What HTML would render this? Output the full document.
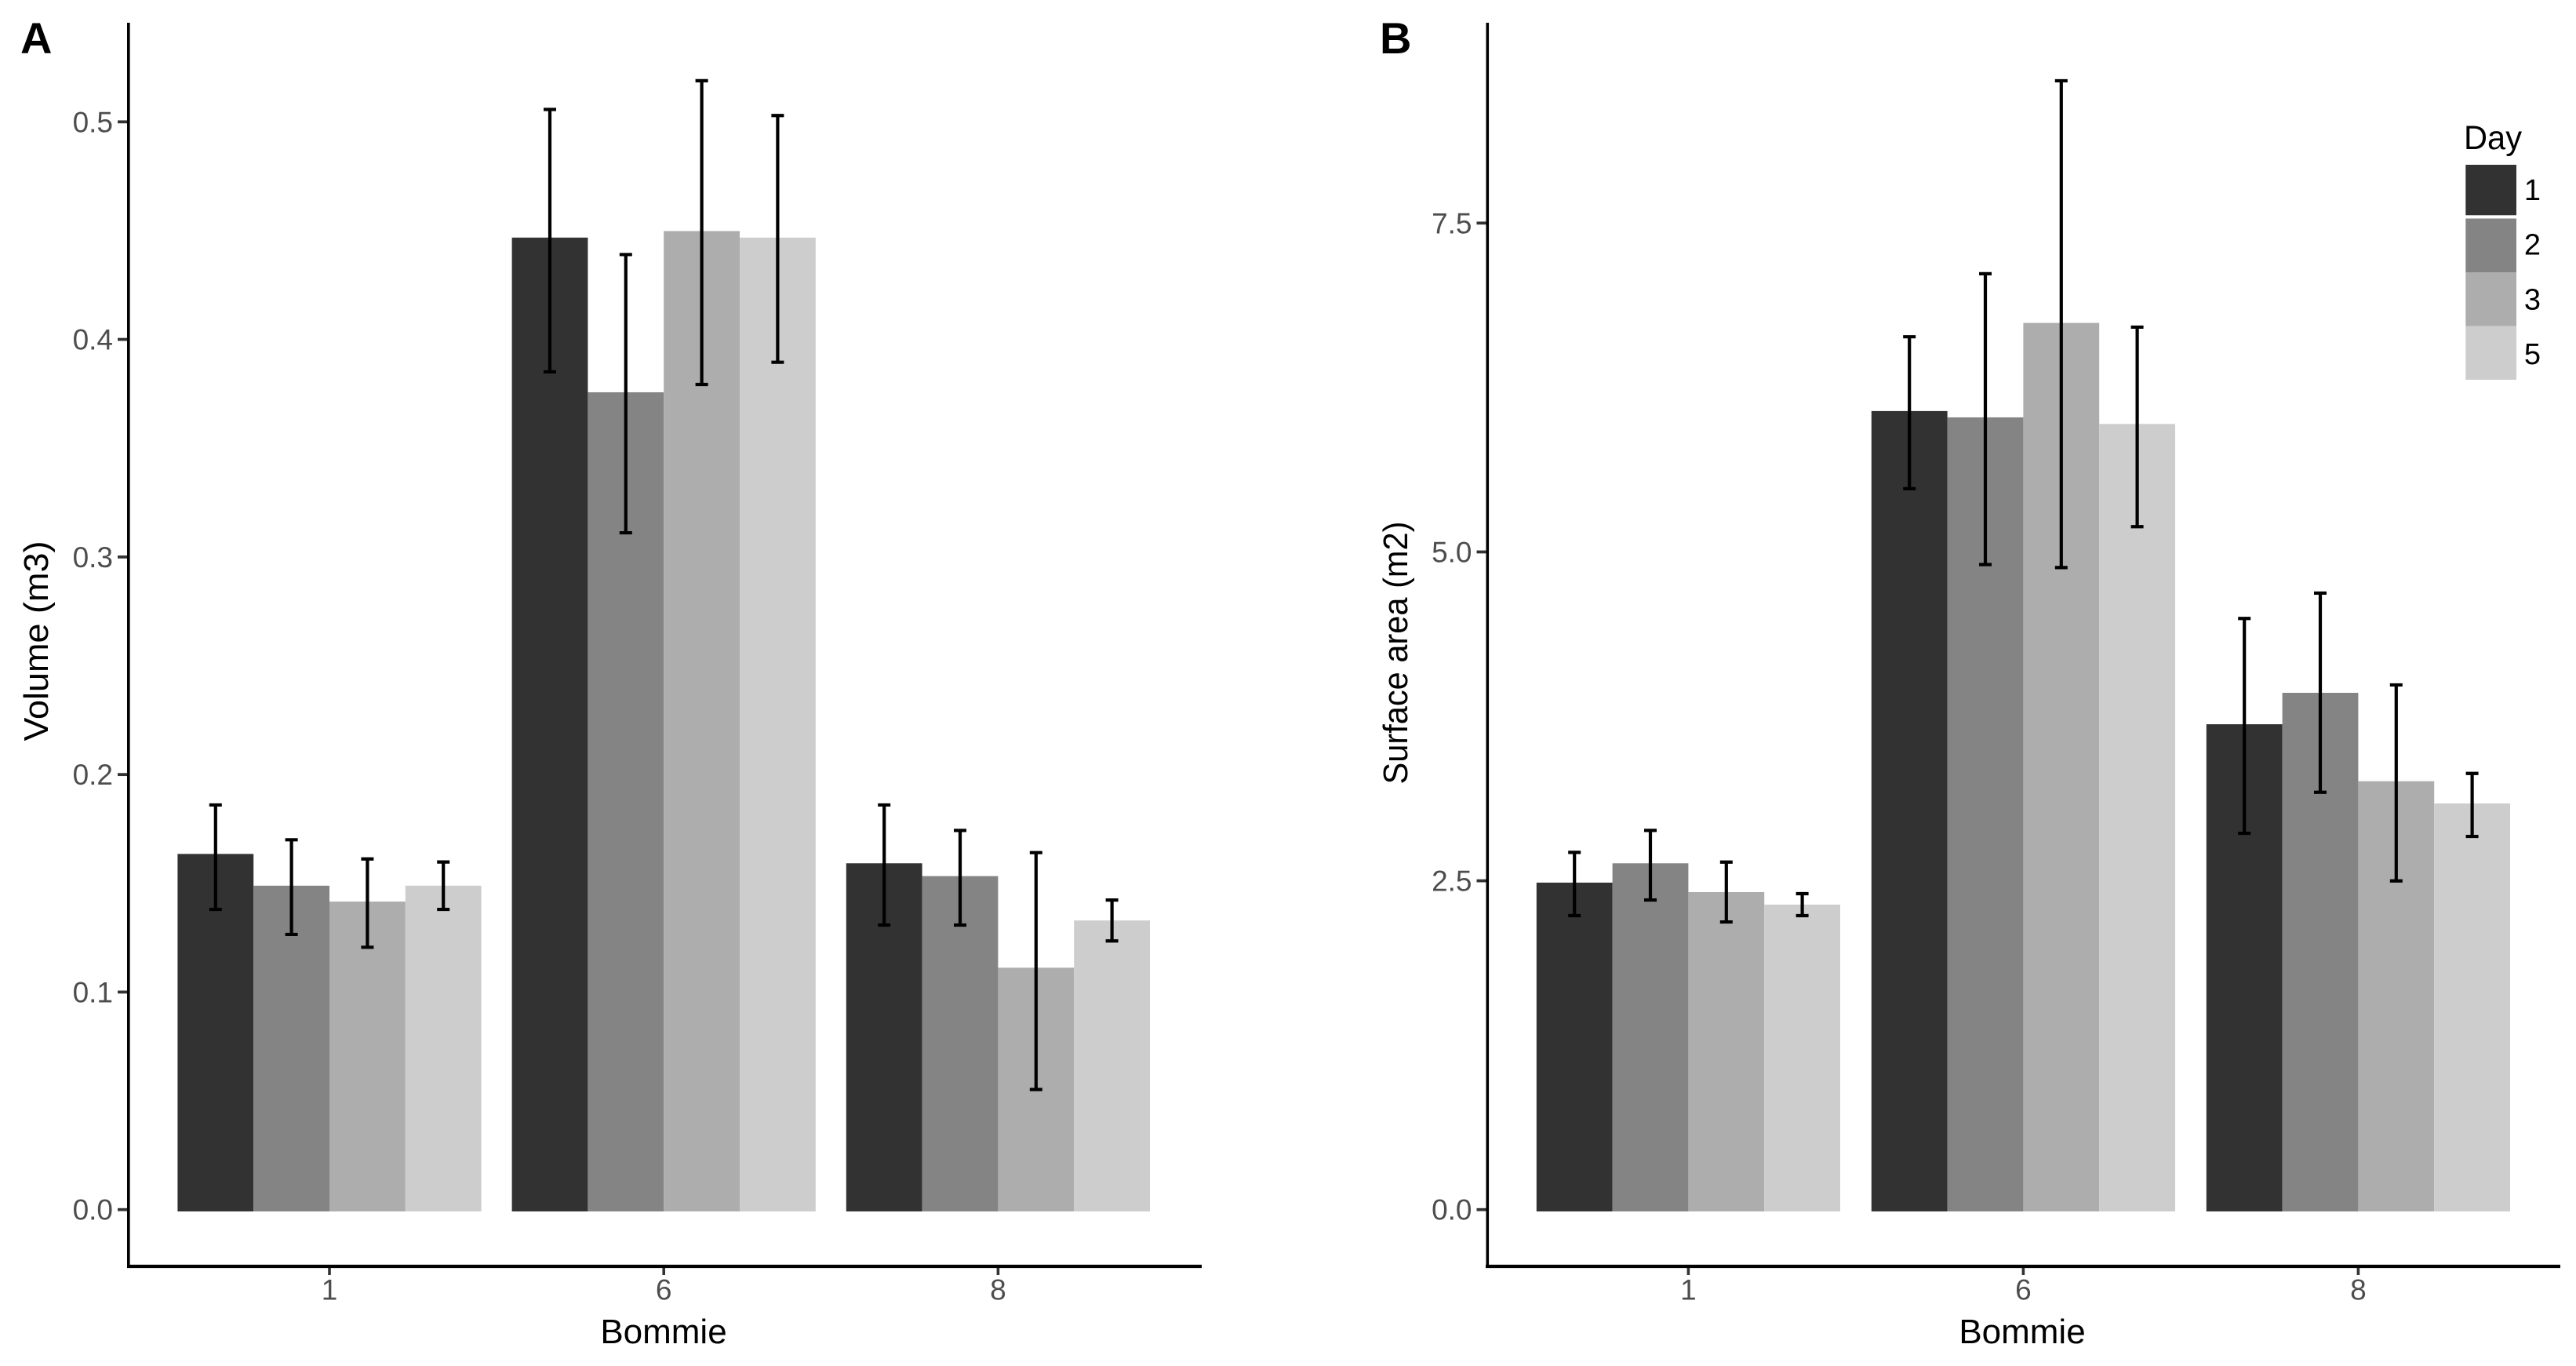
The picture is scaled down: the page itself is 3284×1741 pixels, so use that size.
<!DOCTYPE html>
<html lang="en">
<head>
<meta charset="utf-8">
<title>Volume and surface area by bommie and day</title>
<style>
  html, body { margin: 0; padding: 0; background: #ffffff; }
  svg { display: block; font-family: "Liberation Sans", Arial, sans-serif; }
  .tick-label { fill: #4d4d4d; font-size: 37px; }
  .axis-title { fill: #000000; font-size: 44px; }
  .panel-letter { fill: #000000; font-size: 56px; font-weight: bold; }
  .legend-title { fill: #000000; font-size: 43px; }
  .legend-label { fill: #000000; font-size: 38px; }
</style>
</head>
<body>
<svg id="figure" xmlns="http://www.w3.org/2000/svg" width="3284" height="1741" viewBox="0 0 3284 1741">
  <rect x="0" y="0" width="3284" height="1741" fill="#ffffff"/>

  <g id="panel-a">
    <g id="panel-a-marks"></g>
    <line x1="163.8" y1="29" x2="163.8" y2="1616" stroke="#000" stroke-width="3.6"/>
    <line x1="162" y1="1614" x2="1532" y2="1614" stroke="#000" stroke-width="4.2"/>
    <text class="panel-letter" x="26" y="68">A</text>
    <text class="axis-title" x="846" y="1712" text-anchor="middle">Bommie</text>
    <text class="axis-title" transform="translate(61 817) rotate(-90)" text-anchor="middle" textLength="255" lengthAdjust="spacingAndGlyphs">Volume (m3)</text>
  </g>

  <g id="panel-b">
    <g id="panel-b-marks"></g>
    <line x1="1896.3" y1="29" x2="1896.3" y2="1616" stroke="#000" stroke-width="3.6"/>
    <line x1="1894" y1="1614" x2="3264" y2="1614" stroke="#000" stroke-width="4.2"/>
    <text class="panel-letter" x="1759" y="68">B</text>
    <text class="axis-title" x="2578" y="1712" text-anchor="middle">Bommie</text>
    <text class="axis-title" transform="translate(1794 832) rotate(-90)" text-anchor="middle" textLength="335" lengthAdjust="spacingAndGlyphs">Surface area (m2)</text>
  </g>

  <g id="legend">
    <text class="legend-title" x="3141" y="190" textLength="74" lengthAdjust="spacingAndGlyphs">Day</text>
  </g>
</svg>

<script>
// Categories and tick labels
const categories = ['1', '6', '8'];
const days = ['1', '2', '3', '5'];
const volumeTickLabels = ['0.0', '0.1', '0.2', '0.3', '0.4', '0.5'];
const surfaceTickLabels = ['0.0', '2.5', '5.0', '7.5'];

// Panel A: volume (m3), one array per day, ordered by bommie
const volumeMeanDay1 = [0.1635, 0.4468, 0.1592];
const volumeMeanDay2 = [0.1489, 0.3757, 0.1533];
const volumeMeanDay3 = [0.1416, 0.4498, 0.1112];
const volumeMeanDay5 = [0.1489, 0.4468, 0.1329];
const volumeUpperDay1 = [0.1860, 0.5057, 0.1860];
const volumeUpperDay2 = [0.1700, 0.4390, 0.1743];
const volumeUpperDay3 = [0.1612, 0.5189, 0.1641];
const volumeUpperDay5 = [0.1598, 0.5029, 0.1423];
const volumeLowerDay1 = [0.1380, 0.3851, 0.1308];
const volumeLowerDay2 = [0.1265, 0.3111, 0.1308];
const volumeLowerDay3 = [0.1206, 0.3793, 0.0552];
const volumeLowerDay5 = [0.1380, 0.3895, 0.1235];

// Panel B: surface area (m2), one array per day, ordered by bommie
const surfaceMeanDay1 = [2.486, 6.071, 3.690];
const surfaceMeanDay2 = [2.633, 6.023, 3.929];
const surfaceMeanDay3 = [2.414, 6.741, 3.257];
const surfaceMeanDay5 = [2.319, 5.973, 3.088];
const surfaceUpperDay1 = [2.716, 6.636, 4.494];
const surfaceUpperDay2 = [2.883, 7.115, 4.687];
const surfaceUpperDay3 = [2.642, 8.582, 3.989];
const surfaceUpperDay5 = [2.402, 6.709, 3.316];
const surfaceLowerDay1 = [2.235, 5.481, 2.861];
const surfaceLowerDay2 = [2.354, 4.904, 3.173];
const surfaceLowerDay3 = [2.187, 4.881, 2.499];
const surfaceLowerDay5 = [2.235, 5.192, 2.837];

const dayFills = ['#323232', '#848484', '#adadad', '#cdcdcd'];
const SVG_NS = 'http://www.w3.org/2000/svg';
const BAR_WIDTH = 96.8;
const BASELINE_OVERHANG = 2.3;
const X_AXIS_Y = 1614;

function createSvg(tag, attrs, parent, text) {
  const el = document.createElementNS(SVG_NS, tag);
  Object.keys(attrs).forEach(function (k) { el.setAttribute(k, attrs[k]); });
  if (text !== undefined) el.textContent = text;
  parent.appendChild(el);
  return el;
}

function drawPanel(cfg) {
  const root = document.getElementById(cfg.rootId);
  const xScale = function (g) { return cfg.xStart + g * cfg.xStep; };
  const yScale = function (v) { return cfg.yZero - v * cfg.yPerUnit; };
  const baseline = yScale(0) + BASELINE_OVERHANG;

  // Bars
  categories.forEach(function (cat, g) {
    days.forEach(function (day, d) {
      const left = xScale(g) + (d - 2) * BAR_WIDTH;
      const top = yScale(cfg.means[d][g]);
      const bar = createSvg('rect', { x: left, y: top, width: BAR_WIDTH, height: baseline - top, fill: dayFills[d] }, root);
      
      
    });
  });

  // Error bars
  categories.forEach(function (cat, g) {
    days.forEach(function (day, d) {
      const cx = xScale(g) + (d - 1.5) * BAR_WIDTH;
      const hi = yScale(cfg.upper[d][g]);
      const lo = yScale(cfg.lower[d][g]);
      const group = createSvg('g', { stroke: '#000', 'stroke-width': 4.2 }, root);
      
      
      createSvg('line', { x1: cx, x2: cx, y1: hi, y2: lo }, group);
      createSvg('line', { x1: cx - 8, x2: cx + 8, y1: hi, y2: hi }, group);
      createSvg('line', { x1: cx - 8, x2: cx + 8, y1: lo, y2: lo }, group);
    });
  });

  // Y ticks and labels
  cfg.tickLabels.forEach(function (label) {
    const y = yScale(parseFloat(label));
    const tick = createSvg('line', { x1: cfg.axisX - 14, x2: cfg.axisX, y1: y, y2: y, stroke: '#333', 'stroke-width': 3.8 }, root);
    
    
    const txt = createSvg('text', { x: cfg.axisX - 20, y: y + 13, 'text-anchor': 'end', class: 'tick-label' }, root, label);
    
    
  });

  // X ticks and labels
  categories.forEach(function (cat, g) {
    const x = xScale(g);
    const tick = createSvg('line', { x1: x, x2: x, y1: X_AXIS_Y, y2: X_AXIS_Y + 11, stroke: '#333', 'stroke-width': 3.6 }, root);
    
    
    const txt = createSvg('text', { x: x, y: 1656.5, 'text-anchor': 'middle', class: 'tick-label' }, root, cat);
    
    
  });
}

drawPanel({
  key: 'volume',
  rootId: 'panel-a-marks',
  axisX: 164,
  xStart: 420,
  xStep: 426.2,
  yZero: 1541.7,
  yPerUnit: 2772.8,
  tickLabels: volumeTickLabels,
  means: [volumeMeanDay1, volumeMeanDay2, volumeMeanDay3, volumeMeanDay5],
  upper: [volumeUpperDay1, volumeUpperDay2, volumeUpperDay3, volumeUpperDay5],
  lower: [volumeLowerDay1, volumeLowerDay2, volumeLowerDay3, volumeLowerDay5]
});

drawPanel({
  key: 'surface-area',
  rootId: 'panel-b-marks',
  axisX: 1896.5,
  xStart: 2152.4,
  xStep: 427,
  yZero: 1541.7,
  yPerUnit: 167.65,
  tickLabels: surfaceTickLabels,
  means: [surfaceMeanDay1, surfaceMeanDay2, surfaceMeanDay3, surfaceMeanDay5],
  upper: [surfaceUpperDay1, surfaceUpperDay2, surfaceUpperDay3, surfaceUpperDay5],
  lower: [surfaceLowerDay1, surfaceLowerDay2, surfaceLowerDay3, surfaceLowerDay5]
});

// Legend
const legendRoot = document.getElementById('legend');
days.forEach(function (day, d) {
  const top = 210 + d * 68.5;
  const swatch = createSvg('rect', { x: 3143.3, y: top, width: 64.7, height: d === 0 ? 64.3 : 68.5, fill: dayFills[d] }, legendRoot);
  
  
  const txt = createSvg('text', { x: 3228.5, y: 255 + d * 69.7, 'text-anchor': 'middle', class: 'legend-label' }, legendRoot, day);
  
  
});
</script>
</body>
</html>
